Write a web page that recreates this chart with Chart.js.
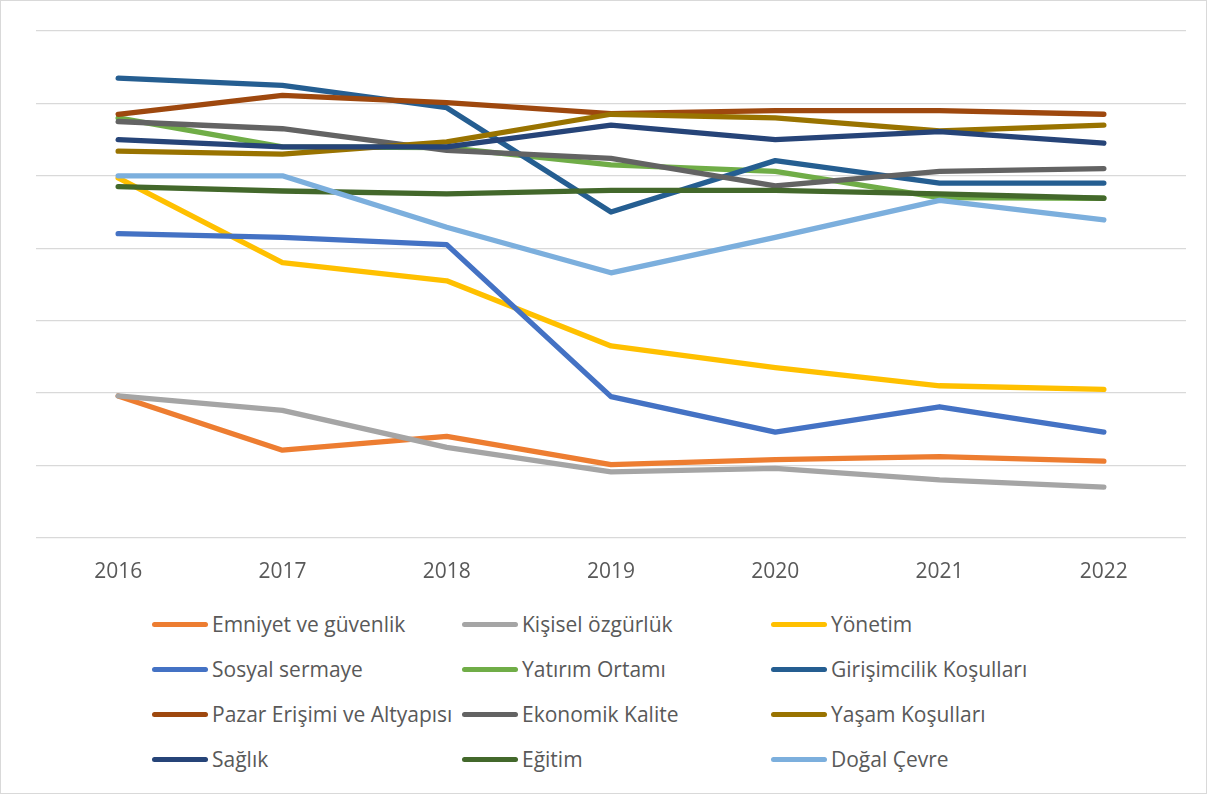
<!DOCTYPE html>
<html>
<head>
<meta charset="utf-8">
<script src="https://cdn.jsdelivr.net/npm/chart.js@4.4.0/dist/chart.umd.min.js"></script>
<style>
    html, body { margin: 0; padding: 0; background: #fff; }
    #frame {
        position: relative;
        width: 1207px;
        height: 794px;
        box-sizing: border-box;
        border: 1px solid #d9d9d9;
        overflow: hidden;
        font-family: "Open Sans", sans-serif;
    }
    #chart-box { position: absolute; left: -1px; top: -1px; width: 1207px; height: 599px; }
    #legend { position: absolute; left: 0; top: 0; }
    .item {
        position: absolute;
        display: flex;
        align-items: center;
        height: 30px;
        color: #595959;
        font-size: 21px;
        white-space: nowrap;
    }
    .swatch {
        width: 56px;
        height: 5px;
        border-radius: 3px;
        margin-right: 4px;
    }
</style>
</head>
<body>
<div id="frame">
    <div id="chart-box"><canvas id="line-chart"></canvas></div>
    <div id="legend"></div>
</div>
<script>
const years = ['2016', '2017', '2018', '2019', '2020', '2021', '2022'];

const seriesNames = [
    'Emniyet ve güvenlik', 'Kişisel özgürlük', 'Yönetim',
    'Sosyal sermaye', 'Yatırım Ortamı', 'Girişimcilik Koşulları',
    'Pazar Erişimi ve Altyapısı', 'Ekonomik Kalite', 'Yaşam Koşulları',
    'Sağlık', 'Eğitim', 'Doğal Çevre'
];

const seriesColors = [
    '#ED7D31', '#A5A5A5', '#FFC000',
    '#4472C4', '#70AD47', '#255E91',
    '#9E480E', '#636363', '#997300',
    '#264478', '#43682B', '#7CAFDD'
];

// valores (escala sin etiquetas, 0-7)
const emniyet = [1.96, 1.21, 1.40, 1.01, 1.08, 1.12, 1.06];
const kisisel = [1.96, 1.76, 1.25, 0.91, 0.96, 0.80, 0.70];
const yonetim = [4.97, 3.80, 3.55, 2.65, 2.35, 2.10, 2.05];
const sosyal = [4.20, 4.15, 4.05, 1.95, 1.46, 1.81, 1.46];
const yatirim = [5.80, 5.40, 5.39, 5.15, 5.06, 4.70, 4.69];
const girisimcilik = [6.35, 6.25, 5.94, 4.50, 5.21, 4.90, 4.90];
const pazar = [5.85, 6.11, 6.01, 5.86, 5.90, 5.90, 5.85];
const ekonomik = [5.75, 5.65, 5.35, 5.24, 4.86, 5.06, 5.10];
const yasam = [5.34, 5.30, 5.47, 5.85, 5.80, 5.62, 5.70];
const saglik = [5.50, 5.40, 5.40, 5.70, 5.50, 5.61, 5.45];
const egitim = [4.85, 4.79, 4.75, 4.80, 4.80, 4.75, 4.69];
const dogal = [5.00, 5.00, 4.29, 3.66, 4.15, 4.66, 4.39];

const seriesValues = [
    emniyet, kisisel, yonetim,
    sosyal, yatirim, girisimcilik,
    pazar, ekonomik, yasam,
    saglik, egitim, dogal
];

const ctx = document.getElementById('line-chart').getContext('2d');

new Chart(ctx, {
    type: 'line',
    data: {
        labels: years,
        datasets: seriesValues.map((values, i) => ({
            label: seriesNames[i],
            data: values,
            borderColor: seriesColors[i],
            backgroundColor: seriesColors[i],
            borderWidth: 5.3,
            borderCapStyle: 'round',
            borderJoinStyle: 'round',
            pointRadius: 0,
            tension: 0,
            fill: false,
            order: seriesValues.length - i // la última serie queda arriba, como en Excel
        }))
    },
    options: {
        responsive: true,
        maintainAspectRatio: false,
        animation: false,
        layout: { padding: { left: 36, right: 21, top: 31, bottom: 0 } },
        plugins: {
            legend: { display: false },
            tooltip: { enabled: false }
        },
        scales: {
            x: {
                offset: true,
                grid: { display: false },
                border: { display: false },
                ticks: {
                    color: '#595959',
                    padding: 14,
                    font: { family: 'Open Sans', size: 21 }
                }
            },
            y: {
                min: 0,
                max: 7,
                border: { display: false },
                grid: { color: '#d9d9d9', lineWidth: 1.3, drawTicks: false },
                ticks: { display: false, stepSize: 1 }
            }
        }
    }
});

// leyenda en tres columnas
const legend = document.getElementById('legend');
const colX = [151, 461, 770];
const rowY = [608, 653, 698, 743];
seriesNames.forEach((name, i) => {
    const item = document.createElement('div');
    item.className = 'item';
    item.style.left = colX[i % 3] + 'px';
    item.style.top = rowY[Math.floor(i / 3)] + 'px';
    item.innerHTML = `<span class="swatch" style="background:${seriesColors[i]}"></span><span></span>`;
    item.lastChild.textContent = name;
    legend.appendChild(item);
});
</script>
</body>
</html>
